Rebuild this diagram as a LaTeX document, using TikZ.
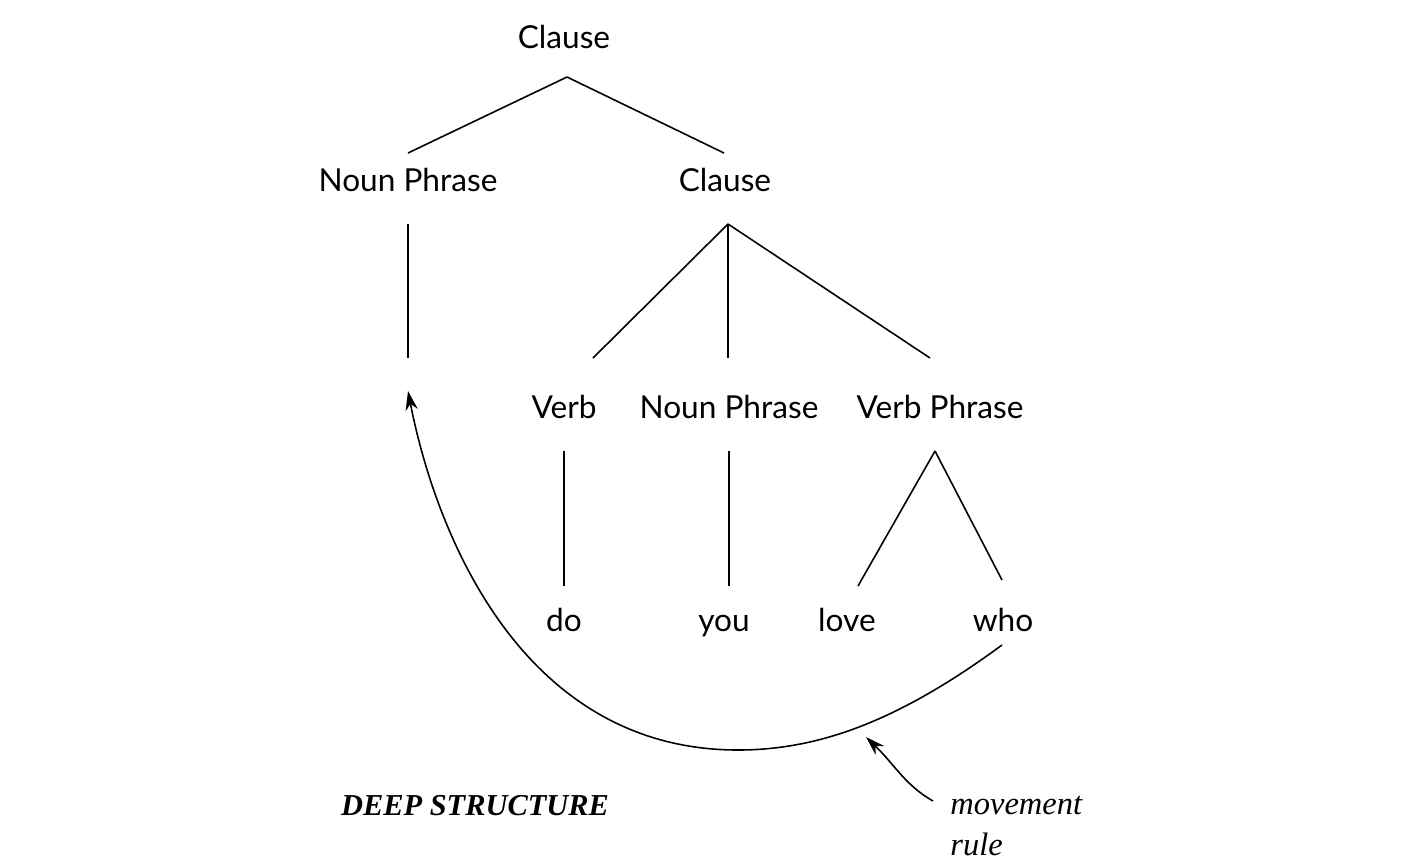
\documentclass[tikz,border=0pt]{standalone}
\usepackage{fontspec}
\setmainfont{Liberation Serif}
\newfontfamily\labfont{Lato}
\usetikzlibrary{calc,arrows.meta}
\tikzset{
  lab/.style={font=\labfont\fontsize{18}{21}\selectfont, inner sep=0pt, anchor=base},
  note/.style={font=\itshape\fontsize{18.5}{23.5}\selectfont, inner sep=0pt, align=left, anchor=north west},
  edge/.style={line width=0.9pt},
  arr/.style={line width=0.9pt, -{Stealth[length=11pt,width=7pt]}}
}
\begin{document}
\begin{tikzpicture}[x=0.02cm,y=-0.02cm]
\useasboundingbox (0,0) rectangle (1409,867);
\node[lab] (c1) at (564,48) {Clause};
\node[lab] (np1) at (408,191) {Noun Phrase};
\node[lab] (c2) at (725,191) {Clause};
\coordinate (gap) at (408,375);
\node[lab] (v) at (564,418) {Verb};
\node[lab] (np2) at (729,418) {Noun Phrase};
\node[lab] (vp) at (940,418) {Verb Phrase};
\node[lab] (do) at (564,631) {do};
\node[lab] (you) at (724,631) {you};
\node[lab] (love) at (847,631) {love};
\node[lab] (who) at (1003,631) {who};
\node[font=\bfseries\itshape\fontsize{17.3}{21}\selectfont, inner sep=0pt, anchor=base] (ds) at (475,815) {DEEP STRUCTURE};
\node[note] (mr) at (950,796) {movement\\rule};
\coordinate (hit) at (866,737);

\draw[edge] ($(c1.base)+(3,29)$) -- ($(np1.base)+(0,-38)$);
\draw[edge] ($(c1.base)+(3,29)$) -- ($(c2.base)+(-1,-38)$);
\draw[edge] ($(np1.base)+(0,33)$) -- ($(gap)+(0,-17)$);
\draw[edge] ($(c2.base)+(3,33)$) -- ($(v.base)+(29,-60)$);
\draw[edge] ($(c2.base)+(3,33)$) -- ($(np2.base)+(-1,-60)$);
\draw[edge] ($(c2.base)+(3,33)$) -- ($(vp.base)+(-10,-60)$);
\draw[edge] ($(v.base)+(0,33)$) -- ($(do.base)+(0,-45)$);
\draw[edge] ($(np2.base)+(0,33)$) -- ($(you.base)+(5,-45)$);
\draw[edge] ($(vp.base)+(-5,33)$) -- ($(love.base)+(11,-45)$);
\draw[edge] ($(vp.base)+(-5,33)$) -- ($(who.base)+(-1,-51)$);
\draw[arr] ($(who.base)+(-1,14)$) .. controls (900,720) and (820,750) .. (738,750)
  .. controls (520,750) and (435,530) .. ($(gap)+(0,16)$);
\draw[arr] ($(mr.north west)+(-17,5)$) .. controls (905,785) and (895,765) .. (hit);
\end{tikzpicture}
\end{document}
